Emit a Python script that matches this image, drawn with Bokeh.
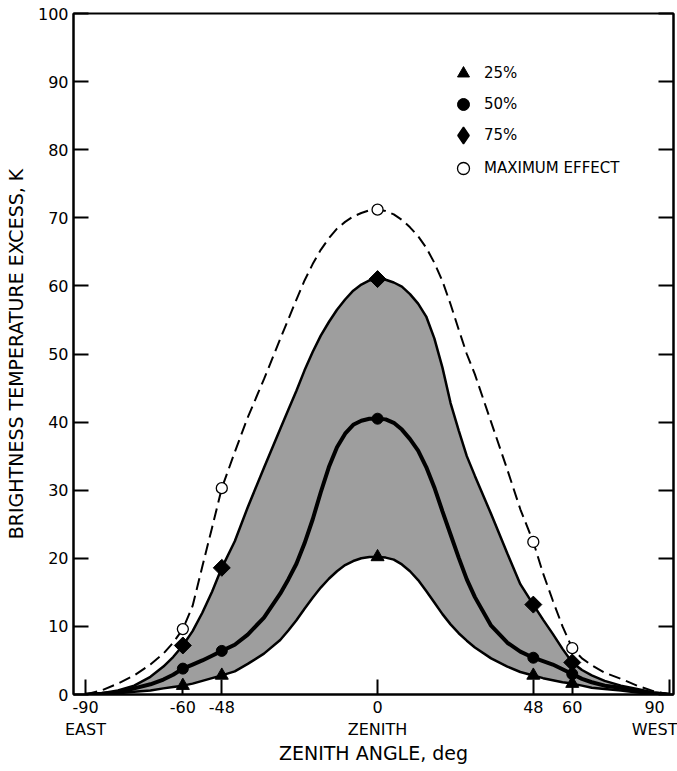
import math
from bokeh.plotting import figure
from bokeh.models import Range1d, FixedTicker, LinearAxis, Legend, LegendItem
from bokeh.embed import file_html
from bokeh.resources import INLINE

# ---- data ----
POINT_X = [-60, -48, 0, 48, 60]
P25 = [1.3, 2.8, 20.2, 2.8, 1.6]
P50 = [3.8, 6.4, 40.5, 5.4, 3.0]
P75 = [7.2, 18.6, 61.0, 13.2, 4.7]
PMAX = [9.6, 30.3, 71.2, 22.4, 6.8]

CURVE_X = [-90, -85, -80, -75, -70, -66, -63, -60, -57, -54, -51,
           -48, -44, -40, -35, -30, -27.5,
           -25, -22.5, -20, -17.5, -15, -12.5, -10, -7.5, -5, -2.5, 0,
           2.5, 5, 7.5, 10, 12.5, 15, 17.5, 20, 22.5, 25,
           27.5, 30, 35, 40, 44, 48, 51, 54, 57,
           60, 63, 66, 70, 75, 80, 85, 90]
CMAX = [0, 0.6, 1.6, 2.8, 4.4, 6.0, 7.6, 9.6, 13.0, 18.8, 24.5,
        30.3, 35.6, 40.7, 46.3, 52.2, 55.1,
        58.0, 60.8, 63.2, 65.3, 67.0, 68.4, 69.4, 70.2, 70.7, 71.1, 71.2,
        71.0, 70.5, 69.7, 68.6, 67.3, 65.6, 63.4, 60.7, 57.3, 53.6,
        50.0, 47.0, 40.0, 33.0, 27.2, 22.4, 17.8, 13.8, 10.0,
        6.8, 5.3, 4.3, 3.2, 2.3, 1.3, 0.5, 0]
C75 = [0, 0.2, 0.6, 1.3, 2.6, 4.1, 5.5, 7.2, 9.3, 12.0, 15.1,
       18.6, 22.5, 27.5, 33.3, 39.0, 41.8,
       44.6, 47.6, 50.3, 52.7, 54.7, 56.5, 58.0, 59.3, 60.2, 60.8, 61.0,
       60.9, 60.5, 59.9, 58.8, 57.4, 55.5, 52.3, 48.0, 42.8, 38.8,
       35.0, 32.1, 26.5, 20.7, 16.2, 13.2, 11.0, 8.9, 6.7,
       4.7, 3.6, 2.8, 2.0, 1.3, 0.8, 0.3, 0]
C50 = [0, 0.1, 0.3, 0.9, 1.5, 2.2, 2.9, 3.8, 4.4, 5.0, 5.7,
       6.4, 7.3, 8.8, 11.3, 14.8, 16.9,
       19.2, 22.2, 25.7, 29.7, 33.4, 36.3, 38.3, 39.6, 40.2, 40.5, 40.5,
       40.4, 39.9, 38.9, 37.5, 35.8, 33.4, 30.4, 26.9, 23.5, 20.1,
       16.9, 14.3, 10.1, 7.6, 6.3, 5.4, 4.9, 4.4, 3.7,
       3.0, 2.3, 1.8, 1.3, 1.0, 0.5, 0.2, 0]
C25 = [0, 0.1, 0.2, 0.4, 0.6, 0.9, 1.1, 1.3, 1.6, 2.0, 2.4,
       2.8, 3.4, 4.5, 6.0, 8.0, 9.4,
       10.9, 12.6, 14.2, 15.7, 17.0, 18.1, 19.0, 19.6, 20.0, 20.2, 20.2,
       20.1, 19.8, 19.1, 18.1, 16.8, 15.2, 13.5, 11.8, 10.3, 9.0,
       7.9, 6.9, 5.3, 4.1, 3.3, 2.8, 2.4, 2.1, 1.8,
       1.6, 1.3, 1.0, 0.8, 0.6, 0.3, 0.1, 0]

X_TICKS = [-90, -60, -48, 0, 48, 60, 90]
X_TICK_LABELS = ["-90\nEAST", "-60", "-48", "0\nZENITH", "48", "60", "90\nWEST"]
Y_TICKS = [0, 10, 20, 30, 40, 50, 60, 70, 80, 90, 100]
SERIES_LABELS = ["25%", "50%", "75%", "MAXIMUM EFFECT"]

FONT = "DejaVu Sans"

p = figure(width=677, height=771, x_range=Range1d(-93.7, 91.2), y_range=Range1d(0, 100),
           output_backend="svg", toolbar_location=None,
           min_border_left=73, min_border_right=4, min_border_top=13, min_border_bottom=77)
p.grid.visible = False
p.outline_line_color = "black"
p.outline_line_width = 2
p.background_fill_color = "white"
p.border_fill_color = "white"

# x axis
xa = p.xaxis[0]
xa.ticker = FixedTicker(ticks=X_TICKS)
xa.major_label_overrides = {t: l for t, l in zip(X_TICKS, X_TICK_LABELS)}
xa.major_tick_in = 15
xa.major_tick_out = 0
xa.major_tick_line_width = 2
xa.minor_tick_line_color = None
xa.axis_line_width = 2
xa.major_label_text_font = FONT
xa.major_label_text_font_size = "16px"
xa.major_label_text_color = "black"
xa.major_label_standoff = 3
xa.axis_label = "ZENITH ANGLE, deg"
xa.axis_label_text_font = FONT
xa.axis_label_text_font_size = "19px"
xa.axis_label_text_font_style = "normal"
xa.axis_label_text_color = "black"
xa.axis_label_standoff = 0

# y axis
ya = p.yaxis[0]
ya.ticker = FixedTicker(ticks=Y_TICKS)
ya.major_tick_in = 15
ya.major_tick_out = 0
ya.major_tick_line_width = 2
ya.minor_tick_line_color = None
ya.axis_line_width = 2
ya.major_label_text_font = FONT
ya.major_label_text_font_size = "16px"
ya.major_label_text_color = "black"
ya.major_label_standoff = 5
ya.axis_label = "BRIGHTNESS TEMPERATURE EXCESS, K"
ya.axis_label_text_font = FONT
ya.axis_label_text_font_size = "19px"
ya.axis_label_text_font_style = "normal"
ya.axis_label_text_color = "black"
ya.axis_label_standoff = 8

ra = LinearAxis(ticker=FixedTicker(ticks=Y_TICKS), major_tick_in=15, major_tick_out=0,
                major_tick_line_width=2, minor_tick_line_color=None, axis_line_width=2,
                major_label_text_font_size="0px", major_label_standoff=0)
p.add_layout(ra, "right")

# shaded band between 25% and 75%
p.varea(x=CURVE_X, y1=C25, y2=C75, fill_color="#9e9e9e")
p.line(CURVE_X, C75, line_color="black", line_width=2.5)
p.line(CURVE_X, C25, line_color="black", line_width=2.5)
p.line(CURVE_X, C50, line_color="black", line_width=4)
p.line(CURVE_X, CMAX, line_color="black", line_width=2, line_dash="12 6")

r25 = p.scatter(POINT_X, P25, marker="triangle", size=13, fill_color="black", line_color="black")
r50 = p.scatter(POINT_X, P50, marker="circle", size=11, fill_color="black", line_color="black")
r75 = p.scatter(POINT_X, P75, marker="square", size=12, angle=math.pi / 4,
                fill_color="black", line_color="black")
rmx = p.scatter(POINT_X, PMAX, marker="circle", size=11, fill_color="white", line_color="black",
                line_width=1.3)
# legend key for the 75% series: legend markers are drawn unrotated, so use a diamond
# key on the same data with zero size in the plot (legend sets its own size)
r75_key = p.scatter(POINT_X, P75, marker="diamond", size=0, fill_color="black",
                    line_color="black", line_width=1.5)

common = dict(border_line_color=None, background_fill_alpha=0, label_text_font=FONT,
              label_text_font_size="15px", label_text_color="black", padding=0, margin=0)

leg_a = Legend(items=[LegendItem(label=SERIES_LABELS[0], renderers=[r25]),
                      LegendItem(label=SERIES_LABELS[1], renderers=[r50])],
               location=(375, 575), glyph_width=30, glyph_height=30, spacing=1,
               label_standoff=6, **common)
leg_b = Legend(items=[LegendItem(label=SERIES_LABELS[2], renderers=[r75_key])],
               location=(369, 538), glyph_width=42, glyph_height=42, spacing=0,
               label_standoff=0, **common)
leg_c = Legend(items=[LegendItem(label=SERIES_LABELS[3], renderers=[rmx])],
               location=(375, 511), glyph_width=30, glyph_height=30, spacing=0,
               label_standoff=6, **common)
p.add_layout(leg_a)
p.add_layout(leg_b)
p.add_layout(leg_c)

open("out.html", "w").write(file_html(p, INLINE))
